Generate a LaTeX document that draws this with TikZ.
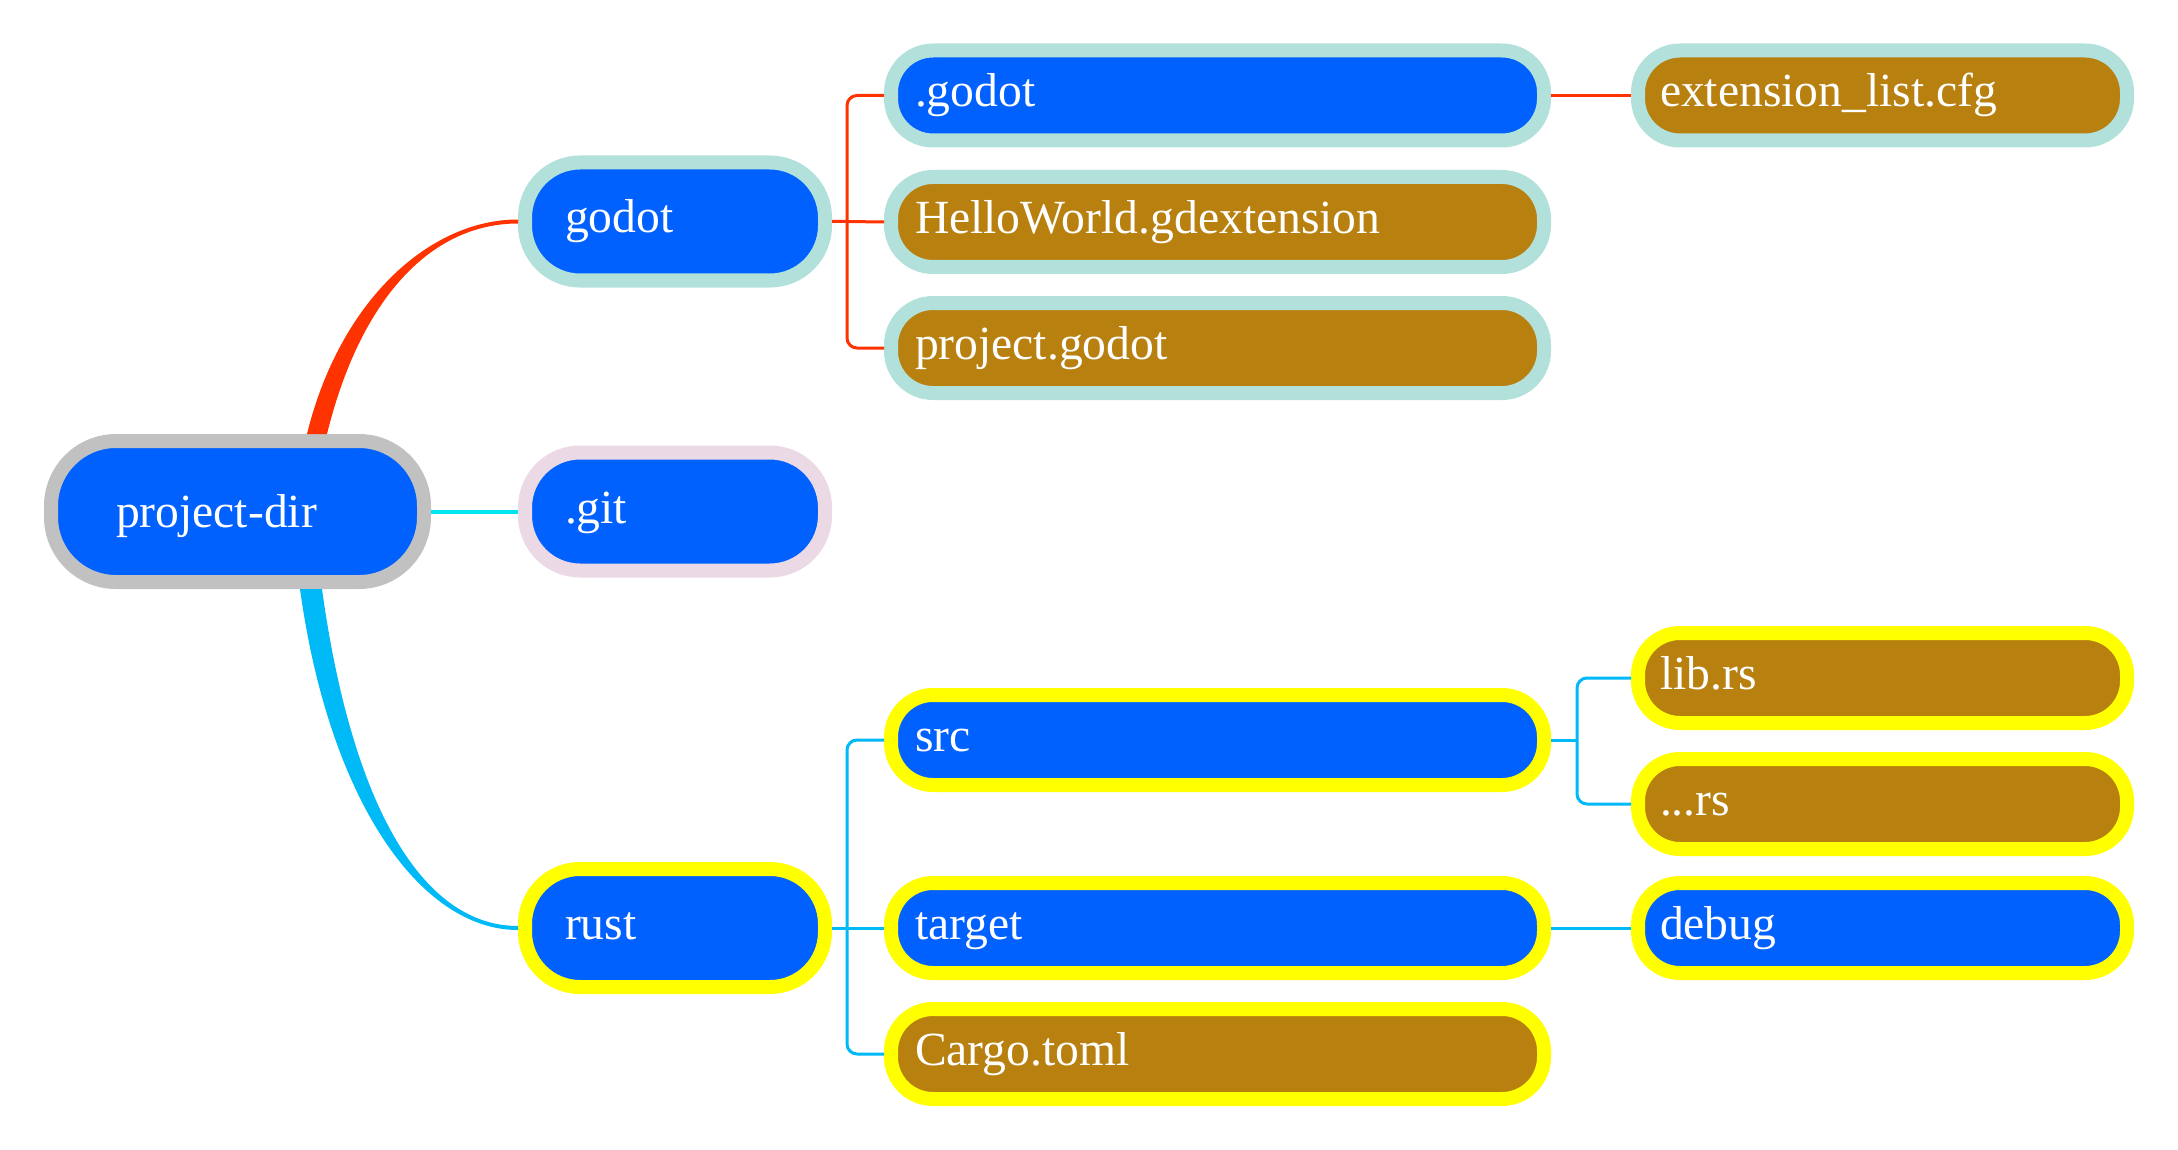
\documentclass[tikz,border=0pt]{standalone}
\usepackage{fontspec}
\setmainfont{Liberation Serif}
\usepackage{tikz}
\usetikzlibrary{calc}
\definecolor{nodeblue}{HTML}{0061FF}
\definecolor{filebrown}{HTML}{B8800F}
\definecolor{rootgray}{HTML}{C1C1C1}
\definecolor{tealrim}{HTML}{B2E0DB}
\definecolor{pinkrim}{HTML}{EBD9E5}
\definecolor{yellowrim}{HTML}{FFFF00}
\definecolor{redbranch}{HTML}{FF3300}
\definecolor{bluebranch}{HTML}{00B9F7}
\definecolor{cyanbranch}{HTML}{00E5EE}

\begin{document}
\begin{tikzpicture}[
  x=0.5pt, y=-0.5pt,
  pill/.style={draw, line width=7pt, text=white, anchor=center, align=left, text depth=0pt, font=\fontsize{23.8}{28}\selectfont},
  topic/.style={pill, draw=rootgray, fill=nodeblue, minimum width=186.5pt, minimum height=70.5pt, inner xsep=32.5pt, text width=121.5pt, text height=16pt, rounded corners=32.5pt},
  first/.style={pill, minimum width=150pt, minimum height=59pt, inner xsep=20pt, text width=110pt, text height=11.5pt, rounded corners=27.5pt},
  second/.style={pill, minimum width=326.5pt, minimum height=45pt, inner xsep=12pt, text width=302.5pt, text height=11.5pt, rounded corners=21pt},
  third/.style={pill, minimum width=244.5pt, minimum height=45pt, inner xsep=11pt, text width=222.5pt, text height=11.5pt, rounded corners=21pt},
  folder/.style={fill=nodeblue},
  file/.style={fill=filebrown},
  redline/.style={draw=redbranch, line width=1.5pt},
  blueline/.style={draw=bluebranch, line width=1.5pt}
  ]
  \useasboundingbox (0,0) rectangle (2178,1150);

  % root and first level
  \node[topic] (root) at (237.5,511.5) {project-dir};
  \node[first,folder,draw=tealrim] (godot) at (675,221.5) {godot};
  \node[first,folder,draw=pinkrim] (git) at (675,511.5) {.git};
  \node[first,folder,draw=yellowrim] (rust) at (675,928) {rust};

  % godot branch
  \node[second,folder,draw=tealrim] (dotgodot) at (1217.5,95.5) {.godot};
  \node[second,file,draw=tealrim] (hello) at (1217.5,222) {HelloWorld.gdextension};
  \node[second,file,draw=tealrim] (projgodot) at (1217.5,348) {project.godot};
  \node[third,file,draw=tealrim] (extlist) at (1882.5,95.5) {extension\_list.cfg};

  % rust branch
  \node[second,folder,draw=yellowrim] (src) at (1217.5,740) {src};
  \node[second,folder,draw=yellowrim] (target) at (1217.5,928) {target};
  \node[second,file,draw=yellowrim] (cargo) at (1217.5,1054) {Cargo.toml};
  \node[third,file,draw=yellowrim] (librs) at (1882.5,678) {lib.rs};
  \node[third,file,draw=yellowrim] (dotsrs) at (1882.5,804) {...rs};
  \node[third,folder,draw=yellowrim] (debug) at (1882.5,928) {debug};

  % thick branches from the root
  \fill[redbranch] ($(root.north)+(69.5,0)$) .. controls +(33,-134) and +(-88,0) .. ($(godot.west)+(0,-2)$)
    -- ($(godot.west)+(0,2)$) .. controls +(-88,0) and +(33,-134) .. ($(root.north)+(89.5,0)$) -- cycle;
  \fill[bluebranch] ($(root.south)+(62.5,0)$) .. controls +(29,211) and +(-98,0) .. ($(rust.west)+(0,2)$)
    -- ($(rust.west)+(0,-2)$) .. controls +(-98,0) and +(29,211) .. ($(root.south)+(84.5,0)$) -- cycle;
  \draw[draw=cyanbranch, line width=2pt] (root.east) -- (git.west);

  % godot children
  \coordinate (gj) at ($(godot.east)+(15,0)$);
  \draw[redline] (godot.east) -- (gj) -- (hello.west);
  \draw[redline, rounded corners=5pt] (gj) |- (dotgodot.west);
  \draw[redline, rounded corners=5pt] (gj) |- (projgodot.west);
  \draw[redline] (dotgodot.east) -- (extlist.west);

  % rust children
  \coordinate (rj) at ($(rust.east)+(15,0)$);
  \draw[blueline] (rust.east) -- (rj) -- (target.west);
  \draw[blueline, rounded corners=5pt] (rj) |- (src.west);
  \draw[blueline, rounded corners=5pt] (rj) |- (cargo.west);
  \draw[blueline] (target.east) -- (debug.west);
  \coordinate (sj) at ($(src.east)+(26,0)$);
  \draw[blueline] (src.east) -- (sj);
  \draw[blueline, rounded corners=5pt] (sj) |- (librs.west);
  \draw[blueline, rounded corners=5pt] (sj) |- (dotsrs.west);

\end{tikzpicture}
\end{document}
